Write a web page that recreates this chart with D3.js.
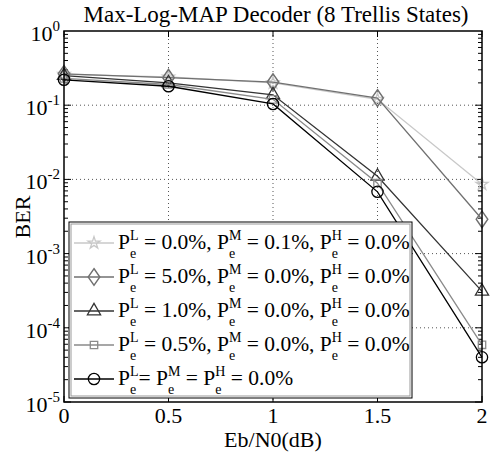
<!DOCTYPE html>
<html>
<head>
<meta charset="utf-8">
<script src="https://cdn.jsdelivr.net/npm/d3@7"></script>
<style>
  body { margin: 0; background: #fff; }
  svg { display: block; }
</style>
</head>
<body>
<svg width="498" height="456" font-family="Liberation Serif"></svg>
<script>
"use strict";
// Eb/N0 points
var ebn0 = [0, 0.5, 1, 1.5, 2];
// error percentages for each curve (low, mid, high)
var pLow = ["0.0", "5.0", "1.0", "0.5", null];
var pMid = ["0.1", "0.0", "0.0", "0.0", null];
var pHigh = ["0.0", "0.0", "0.0", "0.0", null];
var berMid01 = [0.26, 0.24, 0.20, 0.12, 0.0086];
var berLow50 = [0.265, 0.235, 0.205, 0.125, 0.0029];
var berLow10 = [0.25, 0.20, 0.138, 0.011, 0.00031];
var berLow05 = [0.23, 0.19, 0.12, 0.0089, 0.000059];
var berIdeal = [0.22, 0.18, 0.104, 0.0068, 0.000040];
var xTicks = [0, 0.5, 1, 1.5, 2];
var yTicks = [1, 1e-1, 1e-2, 1e-3, 1e-4, 1e-5];

var series = [
  {ber: berMid01, color: '#c8c8c8', marker: 'star'},
  {ber: berLow50, color: '#707070', marker: 'diamond'},
  {ber: berLow10, color: '#333', marker: 'triangle'},
  {ber: berLow05, color: '#8a8a8a', marker: 'square'},
  {ber: berIdeal, color: '#000', marker: 'circle'}
];

var svg = d3.select("svg");
var pl = 64, pr = 482, pt = 31, pb = 402;
var x = d3.scaleLinear().domain([0, 2]).range([pl, pr]);
var y = d3.scaleLog().domain([1e-5, 1]).range([pb, pt]);

// grid
var grid = svg.append("g").attr('stroke', '#555').attr('stroke-dasharray', '1,3').attr('stroke-width', 1);
xTicks.slice(1, -1).forEach(t => {
  grid.append('line').attr('x1', x(t)).attr('x2', x(t)).attr('y1', pt).attr('y2', pb);
});
yTicks.slice(1, -1).forEach(t => {
  grid.append('line').attr('x1', pl).attr('x2', pr).attr('y1', y(t)).attr('y2', y(t));
});

// ticks
var ticks = svg.append("g").attr('stroke', '#000').attr('stroke-width', 1);
xTicks.forEach(t => {
  ticks.append('line').attr('x1', x(t)).attr('x2', x(t)).attr('y1', pb).attr('y2', pb - 6);
  ticks.append('line').attr('x1', x(t)).attr('x2', x(t)).attr('y1', pt).attr('y2', pt + 6);
});
for (var e = -5; e < 0; e++) {
  for (var m = 1; m <= 9; m++) {
    var v = m * Math.pow(10, e);
    var len = m === 1 ? 7 : 4;
    ticks.append('line').attr('x1', pl).attr('x2', pl + len).attr('y1', y(v)).attr('y2', y(v));
    ticks.append('line').attr('x1', pr).attr('x2', pr - len).attr('y1', y(v)).attr('y2', y(v));
  }
}

// tick labels
svg.append("g").selectAll("text").data(xTicks).enter().append("text")
  .attr('x', d => x(d)).attr('y', 423).attr('text-anchor', 'middle')
  .attr('font-size', 22).text(d => d);
var yl = svg.append("g").selectAll("text").data(yTicks).enter().append("text")
  .attr('x', 60).attr('y', d => y(d) + 10).attr('text-anchor', 'end').attr('font-size', 22);
yl.append('tspan').text('10');
yl.append('tspan').attr('font-size', 15).attr('dy', -10).text(d => Math.round(Math.log10(d)));

// curves
var line = d3.line().x((d, i) => x(ebn0[i])).y(d => y(d));
function marker(g, type, cx, cy, color) {
  var sym = {star: d3.symbolStar, diamond: d3.symbolDiamond, triangle: d3.symbolTriangle,
             square: d3.symbolSquare, circle: d3.symbolCircle}[type];
  var size = {star: 45, diamond: 80, triangle: 75, square: 55, circle: 100}[type];
  var tr = 'translate(' + cx + ',' + cy + ')';
  if (type === 'diamond') tr += ' scale(1.2,1)';
  g.append('path').attr('d', d3.symbol().type(sym).size(size)())
    .attr('transform', tr)
    .attr('fill', 'none').attr('stroke', color).attr('stroke-width', 1.3);
}
series.forEach(s => {
  var g = svg.append("g");
  g.append('path').attr('d', line(s.ber)).attr('fill', 'none').attr('stroke', s.color).attr('stroke-width', 1.3);
  s.ber.forEach((v, i) => marker(g, s.marker, x(ebn0[i]), y(v), s.color));
});

// frame
svg.append('rect').attr('x', pl).attr('y', pt).attr('width', pr - pl).attr('height', pb - pt)
  .attr('fill', 'none').attr('stroke', '#000').attr('stroke-width', 1.5);

// legend
var lg = svg.append('g');
lg.append('rect').attr('x', 69).attr('y', 222).attr('width', 343).attr('height', 176)
  .attr('fill', '#fff').attr('stroke', '#000').attr('stroke-width', 1);
lg.append('rect').attr('x', 71).attr('y', 224).attr('width', 339).attr('height', 172)
  .attr('fill', 'none').attr('stroke', '#999').attr('stroke-width', 1);

function pe(letter) {
  return [{t: 'P'}, {sup: letter, sub: 'e'}];
}
series.forEach((s, i) => {
  var cy = 243 + i * 34;
  lg.append('line').attr('x1', 74).attr('x2', 114).attr('y1', cy).attr('y2', cy)
    .attr('stroke', s.color).attr('stroke-width', 1.3);
  marker(lg, s.marker, 94, cy, s.color);
  var parts;
  if (pLow[i] !== null) {
    parts = [].concat(pe('L'), [{t: ' = ' + pLow[i] + '%, '}], pe('M'),
      [{t: ' = ' + pMid[i] + '%, '}], pe('H'), [{t: ' = ' + pHigh[i] + '%'}]);
  } else {
    parts = [].concat(pe('L'), [{t: '= '}], pe('M'), [{t: ' = '}], pe('H'), [{t: ' = 0.0%'}]);
  }
  var cx = 118, base = cy + 6;
  parts.forEach(p => {
    if (p.t !== undefined) {
      var t = lg.append('text').attr('x', cx).attr('y', base).attr('font-size', 21.5)
        .style('white-space', 'pre').text(p.t);
      cx += t.node().getComputedTextLength();
    } else {
      var a = lg.append('text').attr('x', cx).attr('y', base - 9).attr('font-size', 14).text(p.sup);
      var b = lg.append('text').attr('x', cx).attr('y', base + 9).attr('font-size', 14).text(p.sub);
      cx += Math.max(a.node().getComputedTextLength(), b.node().getComputedTextLength());
    }
  });
});

// title and axis labels
svg.append('text').attr('x', 276).attr('y', 22).attr('text-anchor', 'middle').attr('font-size', 23)
  .text('Max-Log-MAP Decoder (8 Trellis States)');
svg.append('text').attr('x', 273).attr('y', 447).attr('text-anchor', 'middle').attr('font-size', 22)
  .text('Eb/N0(dB)');
svg.append('text').attr('transform', 'translate(30,217) rotate(-90)').attr('text-anchor', 'middle')
  .attr('font-size', 22).text('BER');
</script>
</body>
</html>
